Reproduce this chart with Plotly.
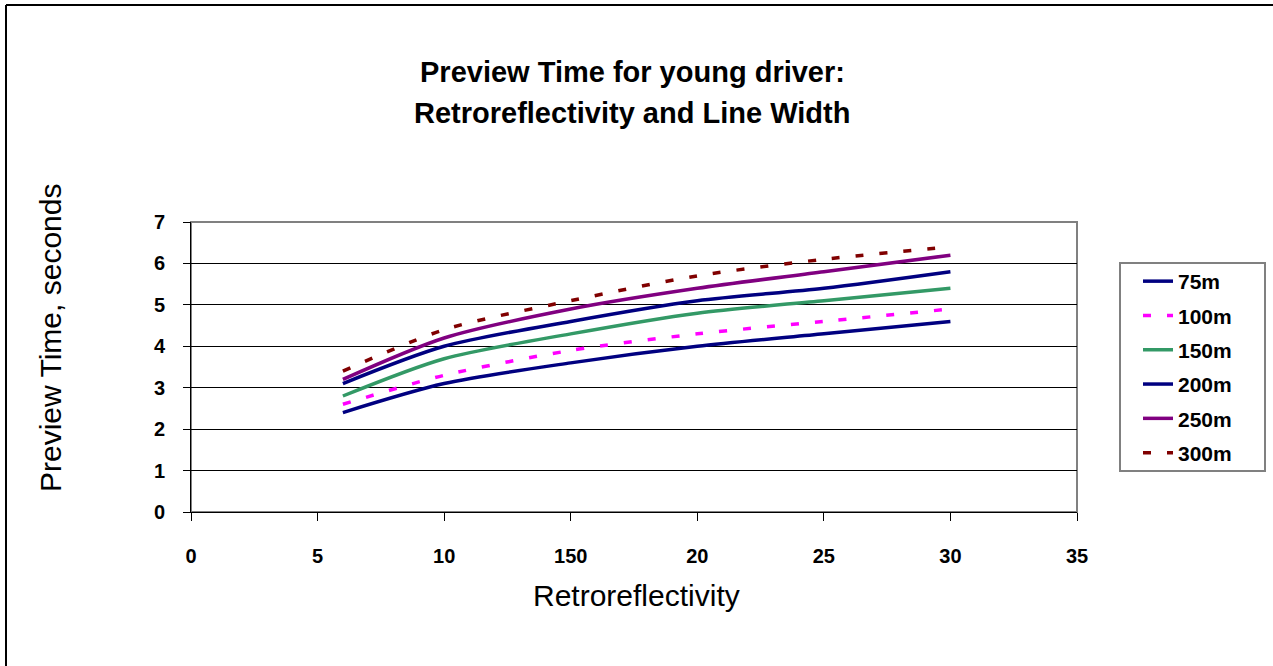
import plotly.graph_objects as go

# Retroreflectivity levels (x) and preview time (seconds) per line width
retro = [6, 10, 15, 20, 25, 30]
series_names = ["75m", "100m", "150m", "200m", "250m", "300m"]
t_75 = [2.4, 3.1, 3.6, 4.0, 4.3, 4.6]
t_100 = [2.6, 3.3, 3.9, 4.3, 4.6, 4.9]
t_150 = [2.8, 3.7, 4.3, 4.8, 5.1, 5.4]
t_200 = [3.1, 4.0, 4.6, 5.1, 5.4, 5.8]
t_250 = [3.2, 4.2, 4.9, 5.4, 5.8, 6.2]
t_300 = [3.4, 4.4, 5.1, 5.7, 6.1, 6.4]

x_tickvals = [0, 5, 10, 15, 20, 25, 30, 35]
x_ticktext = ["0", "5", "10", "150", "20", "25", "30", "35"]
y_tickvals = [0, 1, 2, 3, 4, 5, 6, 7]

FONT = "Liberation Sans, Arial, sans-serif"

# pixel helpers for the fixed 1273x666 canvas with plot area 191..1077 x 222..512
PL, PR, PT, PB = 191, 1077, 222, 512


def px_x(p):
    return (p - PL) / (PR - PL)


def px_y(p):
    return (PB - p) / (PB - PT)


styles = [
    dict(color="#000080", dash="solid"),
    dict(color="#FF00FF", dash="8px,16px"),
    dict(color="#339966", dash="solid"),
    dict(color="#000080", dash="solid"),
    dict(color="#800080", dash="solid"),
    dict(color="#800000", dash="8px,16px"),
]

fig = go.Figure()
for name, vals, st in zip(series_names, [t_75, t_100, t_150, t_200, t_250, t_300], styles):
    fig.add_trace(go.Scatter(
        x=retro, y=vals, name=name, mode="lines",
        line=dict(color=st["color"], dash=st["dash"], width=3.5,
                  shape="spline", smoothing=0.8),
        legendgroup=name,
    ))

fig.update_layout(
    width=1273, height=666,
    margin=dict(l=PL, r=1273 - PR, t=PT, b=666 - PB),
    paper_bgcolor="white", plot_bgcolor="white",
    font=dict(family=FONT, color="black"),
    showlegend=True,
    legend=dict(
        x=px_x(1138), y=px_y(261), xanchor="left", yanchor="top",
        bgcolor="rgba(0,0,0,0)", borderwidth=0,
        font=dict(family=FONT, size=21, color="black", weight="bold"),
        tracegroupgap=4,
    ),
    xaxis=dict(
        range=[0, 35], tickvals=x_tickvals, ticktext=x_ticktext,
        showgrid=False, zeroline=False,
        showline=True, linecolor="black", linewidth=1,
        ticks="outside", ticklen=8, tickcolor="black", tickwidth=1,
        tickfont=dict(family=FONT, size=20, color="black", weight="bold"),
        ticklabelstandoff=18,
    ),
    yaxis=dict(
        range=[0, 7], tickvals=y_tickvals,
        showgrid=True, gridcolor="black", gridwidth=1,
        zeroline=False,
        showline=True, linecolor="black", linewidth=1,
        ticks="outside", ticklen=7, tickcolor="black", tickwidth=1,
        tickfont=dict(family=FONT, size=20, color="black", weight="bold"),
        ticklabelstandoff=14,
    ),
    shapes=[
        # plot area frame
        dict(type="rect", xref="paper", yref="paper", x0=0, y0=0, x1=1, y1=1,
             line=dict(color="#808080", width=2), layer="below"),
        # legend frame
        dict(type="rect", xref="paper", yref="paper",
             x0=px_x(1120), x1=px_x(1265), y0=px_y(471), y1=px_y(263),
             line=dict(color="#808080", width=2), fillcolor="white", layer="below"),
        # outer chart border (left and top edges)
        dict(type="line", xref="paper", yref="paper",
             x0=px_x(6), x1=px_x(6), y0=px_y(666), y1=px_y(5),
             line=dict(color="black", width=2)),
        dict(type="line", xref="paper", yref="paper",
             x0=px_x(6), x1=px_x(1273), y0=px_y(5), y1=px_y(5),
             line=dict(color="black", width=2)),
    ],
    annotations=[
        dict(text="<b>Preview Time for young driver:</b>", xref="paper", yref="paper",
             x=px_x(632), y=px_y(72), xanchor="center", yanchor="middle",
             showarrow=False, font=dict(family=FONT, size=29, color="black")),
        dict(text="<b>Retroreflectivity and Line Width</b>", xref="paper", yref="paper",
             x=px_x(632), y=px_y(113), xanchor="center", yanchor="middle",
             showarrow=False, font=dict(family=FONT, size=29, color="black")),
        dict(text="Preview Time, seconds", xref="paper", yref="paper",
             x=px_x(50), y=px_y(338), xanchor="center", yanchor="middle",
             textangle=-90, showarrow=False, font=dict(family=FONT, size=30, color="black")),
        dict(text="Retroreflectivity", xref="paper", yref="paper",
             x=px_x(636), y=px_y(595), xanchor="center", yanchor="middle",
             showarrow=False, font=dict(family=FONT, size=30, color="black")),
    ],
)

fig.write_html("out.html")
